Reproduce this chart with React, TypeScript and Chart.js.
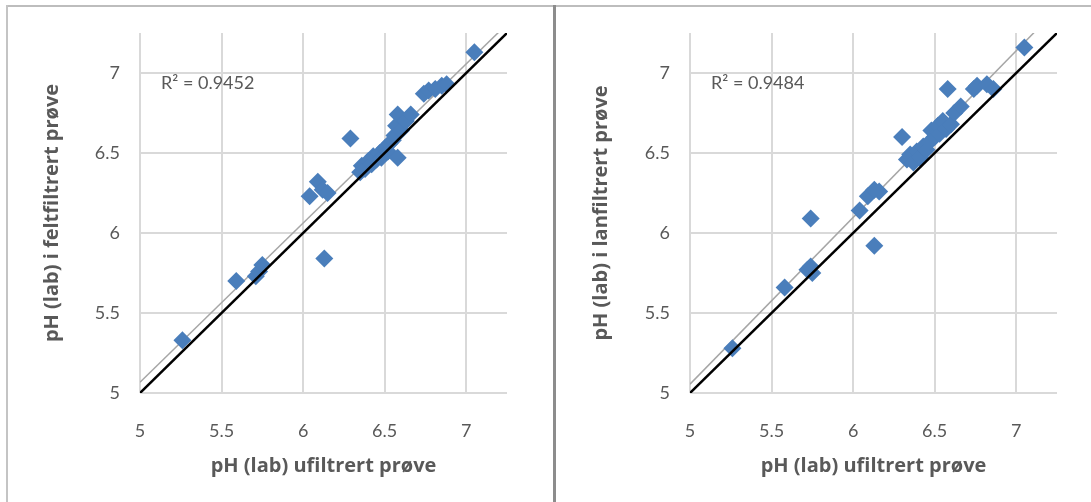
import { useEffect, useRef } from "react";
import { Chart, registerables } from "chart.js";

Chart.register(...registerables);

// Shared axis range and ticks (pH units)
const AXIS_MIN = 5;
const AXIS_MAX = 7.25;
const TICK_VALUES = [5, 5.5, 6, 6.5, 7];
const TICK_LABELS = ["5", "5.5", "6", "6.5", "7"];

const X_TITLE = "pH (lab) ufiltrert prøve";

// Field-filtered vs. unfiltered
const FELT_TITLE = "pH (lab) i feltfiltrert prøve";
const FELT_R2 = "R² = 0.9452";
const FELT_X = [
  5.26, 5.59, 5.71, 5.73, 5.75, 6.04, 6.09, 6.12, 6.15, 6.13, 6.29, 6.35, 6.36,
  6.38, 6.4, 6.42, 6.43, 6.45, 6.47, 6.48, 6.5, 6.52, 6.53, 6.55, 6.56, 6.58,
  6.57, 6.58, 6.6, 6.63, 6.66, 6.74, 6.77, 6.81, 6.85, 6.88, 7.05,
];
const FELT_Y = [
  5.33, 5.7, 5.73, 5.76, 5.8, 6.23, 6.32, 6.27, 6.25, 5.84, 6.59, 6.38, 6.42,
  6.4, 6.45, 6.43, 6.48, 6.46, 6.5, 6.47, 6.53, 6.51, 6.56, 6.58, 6.61, 6.47,
  6.67, 6.74, 6.64, 6.7, 6.74, 6.87, 6.89, 6.9, 6.92, 6.93, 7.13,
];

// Lab-filtered vs. unfiltered
const LAN_TITLE = "pH (lab) i lanfiltrert prøve";
const LAN_R2 = "R² = 0.9484";
const LAN_X = [
  5.26, 5.58, 5.72, 5.74, 5.75, 5.74, 6.04, 6.09, 6.13, 6.16, 6.13, 6.3, 6.33,
  6.35, 6.37, 6.39, 6.41, 6.43, 6.45, 6.47, 6.48, 6.5, 6.52, 6.53, 6.55, 6.57,
  6.58, 6.6, 6.62, 6.66, 6.74, 6.76, 6.82, 6.86, 7.05,
];
const LAN_Y = [
  5.28, 5.66, 5.77, 5.79, 5.75, 6.09, 6.14, 6.23, 6.27, 6.26, 5.92, 6.6, 6.46,
  6.49, 6.44, 6.51, 6.47, 6.54, 6.52, 6.57, 6.64, 6.6, 6.67, 6.62, 6.7, 6.65,
  6.9, 6.68, 6.75, 6.79, 6.9, 6.92, 6.93, 6.9, 7.16,
];

const TICK_FONT = "Lato, 'Open Sans', sans-serif";
const TITLE_FONT = "'Open Sans', Lato, sans-serif";
const TEXT_COLOR = "#595959";
const GRID_COLOR = "#d9d9d9";
const MARKER_COLOR = "#4a7ebb";

function linearFit(xs: number[], ys: number[]) {
  const n = xs.length;
  const mx = xs.reduce((a, b) => a + b, 0) / n;
  const my = ys.reduce((a, b) => a + b, 0) / n;
  let sxy = 0;
  let sxx = 0;
  for (let i = 0; i < n; i++) {
    sxy += (xs[i] - mx) * (ys[i] - my);
    sxx += (xs[i] - mx) * (xs[i] - mx);
  }
  const slope = sxy / sxx;
  return { slope, intercept: my - slope * mx };
}

type PanelProps = {
  xs: number[];
  ys: number[];
  yTitle: string;
  r2: string;
  width: number;
  height: number;
  padRight: number;
  yAxisWidth: number;
};

function ScatterPanel({ xs, ys, yTitle, r2, width, height, padRight, yAxisWidth }: PanelProps) {
  const ref = useRef<HTMLCanvasElement | null>(null);

  useEffect(() => {
    if (!ref.current) return;
    const fit = linearFit(xs, ys);
    const trend = (x: number) => fit.intercept + fit.slope * x;
    const points = xs.map((x, i) => ({ x, y: ys[i] }));

    const r2Plugin = {
      id: "r2Label",
      afterDatasetsDraw(chart: any) {
        const { ctx, chartArea } = chart;
        ctx.save();
        ctx.font = `18px ${TICK_FONT}`;
        ctx.fillStyle = TEXT_COLOR;
        ctx.textAlign = "left";
        ctx.textBaseline = "middle";
        ctx.fillText(r2, chartArea.left + 21, chartArea.top + 50);
        ctx.restore();
      },
    };

    // keep the plot area fixed: axes report no overflow padding
    const noOverflow = (s: any) => {
      s.paddingTop = 0;
      s.paddingBottom = 0;
      s.paddingLeft = 0;
      s.paddingRight = 0;
    };

    const chart = new Chart(ref.current, {
      type: "scatter",
      data: {
        datasets: [
          {
            label: "trend",
            data: [
              { x: AXIS_MIN, y: trend(AXIS_MIN) },
              { x: AXIS_MAX, y: trend(AXIS_MAX) },
            ],
            showLine: true,
            borderColor: "#a6a6a6",
            borderWidth: 1.5,
            pointRadius: 0,
            order: 3,
          },
          {
            label: "pH",
            data: points,
            pointStyle: "rectRot",
            pointRadius: 9,
            backgroundColor: MARKER_COLOR,
            borderColor: MARKER_COLOR,
            borderWidth: 0,
            order: 2,
          },
          {
            label: "1:1",
            data: [
              { x: AXIS_MIN, y: AXIS_MIN },
              { x: AXIS_MAX, y: AXIS_MAX },
            ],
            showLine: true,
            borderColor: "#000000",
            borderWidth: 2.5,
            pointRadius: 0,
            order: 1,
          },
        ],
      },
      options: {
        animation: false,
        responsive: false,
        devicePixelRatio: 1,
        events: [],
        layout: { padding: { top: 25, right: padRight, left: 0, bottom: 0 } },
        plugins: {
          legend: { display: false },
          tooltip: { enabled: false },
        },
        scales: {
          x: {
            type: "linear",
            min: AXIS_MIN,
            max: AXIS_MAX,
            afterBuildTicks: (s: any) => {
              s.ticks = TICK_VALUES.map((v) => ({ value: v }));
            },
            afterFit: (s: any) => {
              s.height = height - 385;
              noOverflow(s);
            },
            grid: { color: GRID_COLOR, lineWidth: 2, drawTicks: false },
            border: { display: false },
            ticks: {
              padding: 27,
              color: TEXT_COLOR,
              font: { family: TICK_FONT, size: 18 },
              callback: (_v: any, i: number) => TICK_LABELS[i],
            },
            title: {
              display: true,
              text: X_TITLE,
              color: TEXT_COLOR,
              font: { family: TITLE_FONT, size: 20, weight: "bold" },
              padding: { top: 0, bottom: 24 },
            },
          },
          y: {
            type: "linear",
            min: AXIS_MIN,
            max: AXIS_MAX,
            afterBuildTicks: (s: any) => {
              s.ticks = TICK_VALUES.map((v) => ({ value: v }));
            },
            afterFit: (s: any) => {
              s.width = yAxisWidth;
              noOverflow(s);
            },
            grid: { color: GRID_COLOR, lineWidth: 2, drawTicks: false },
            border: { display: false },
            ticks: {
              padding: 20,
              color: TEXT_COLOR,
              font: { family: TICK_FONT, size: 18 },
              callback: (_v: any, i: number) => TICK_LABELS[i],
            },
            title: {
              display: true,
              text: yTitle,
              color: TEXT_COLOR,
              font: { family: TITLE_FONT, size: 20, weight: "bold" },
              padding: { top: 32, bottom: 0 },
            },
          },
        },
      },
      plugins: [r2Plugin],
    } as any);

    return () => chart.destroy();
  }, [xs, ys, yTitle, r2, width, height, padRight, yAxisWidth]);

  return <canvas ref={ref} width={width} height={height} style={{ display: "block", width, height }} />;
}

export default function App() {
  useEffect(() => {
    document.body.style.margin = "0";
  }, []);

  return (
    <div style={{ position: "relative", width: 1091, height: 502, background: "#ffffff", overflow: "hidden" }}>
      {/* frame lines */}
      <div style={{ position: "absolute", left: 6, top: 5, width: 1085, height: 2, background: "#bdbdbd" }} />
      <div style={{ position: "absolute", left: 6, top: 5, width: 2, height: 497, background: "#c4c4c4" }} />
      <div style={{ position: "absolute", left: 553, top: 5, width: 3, height: 497, background: "#8c8c8c" }} />

      <div style={{ position: "absolute", left: 8, top: 8 }}>
        <ScatterPanel
          xs={FELT_X}
          ys={FELT_Y}
          yTitle={FELT_TITLE}
          r2={FELT_R2}
          width={545}
          height={494}
          padRight={46}
          yAxisWidth={132}
        />
      </div>
      <div style={{ position: "absolute", left: 557, top: 8 }}>
        <ScatterPanel
          xs={LAN_X}
          ys={LAN_Y}
          yTitle={LAN_TITLE}
          r2={LAN_R2}
          width={534}
          height={494}
          padRight={34}
          yAxisWidth={133}
        />
      </div>
    </div>
  );
}
